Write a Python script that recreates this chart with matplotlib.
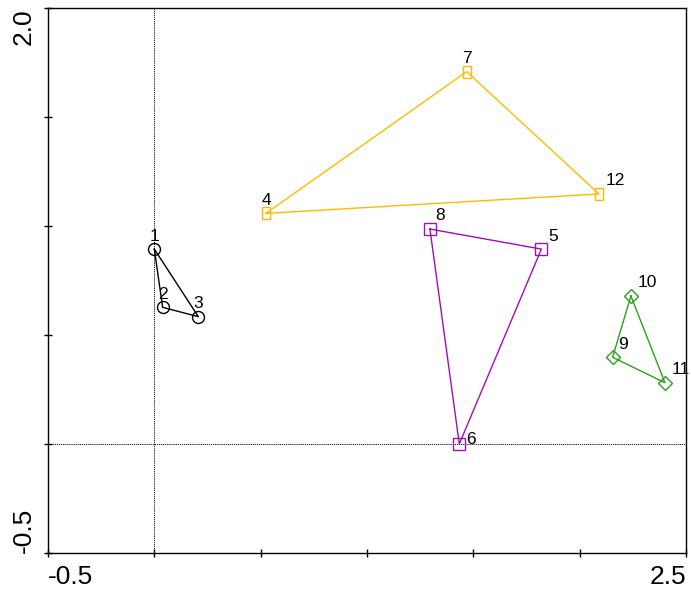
import matplotlib
matplotlib.use("Agg")
import matplotlib.pyplot as plt
from matplotlib.path import Path
import numpy as np

plt.rcParams['font.family'] = ['Liberation Sans', 'DejaVu Sans']

# ---- data ----
labels = ["1", "2", "3", "4", "5", "6", "7", "8", "9", "10", "11", "12"]
x_vals = [0.0, 0.039, 0.207, 0.525, 1.820, 1.434, 1.469, 1.296, 2.155, 2.241, 2.401, 2.091]
y_vals = [0.894, 0.627, 0.584, 1.058, 0.894, 0.0, 1.708, 0.986, 0.398, 0.679, 0.281, 1.147]
groups = [["1", "2", "3"], ["4", "7", "12"], ["8", "5", "6"], ["10", "9", "11"]]
x_ticks = [-0.5, 0.0, 0.5, 1.0, 1.5, 2.0, 2.5]
y_ticks = [-0.5, 0.0, 0.5, 1.0, 1.5, 2.0]
x_tick_labels = ["-0.5", "", "", "", "", "", "2.5"]
y_tick_labels = ["-0.5", "", "", "", "", "2.0"]

# ---- styles ----
rect = Path([(-0.3, -0.5), (0.3, -0.5), (0.3, 0.5), (-0.3, 0.5), (-0.3, -0.5)],
            [Path.MOVETO, Path.LINETO, Path.LINETO, Path.LINETO, Path.CLOSEPOLY])
group_styles = [
    dict(color="black", marker="o", ms=8.6),
    dict(color="#FFBA00", marker=rect, ms=8.6),
    dict(color="#A010B0", marker="s", ms=8.6),
    dict(color="#2CA01C", marker="D", ms=5.6 * 1.25),
]
# label offsets in points (dx, dy, ha)
label_offsets = {
    "1": (0, 4, "center"), "2": (0, 4, "center"), "3": (0, 4, "center"),
    "4": (0, 4, "center"), "7": (0, 4, "center"), "12": (5, 4, "left"),
    "8": (4, 4, "left"), "5": (5, 4, "left"), "6": (5, -2, "left"),
    "10": (5, 4, "left"), "9": (4, 4, "left"), "11": (5, 4, "left"),
}

fig = plt.figure(figsize=(6.91, 5.92), dpi=100)
ax = fig.add_axes([48 / 691, 39 / 592, 638 / 691, 545 / 592])

ax.axvline(0, color="black", lw=0.6, ls=(0, (1.5, 1.0)), zorder=1)
ax.axhline(0, color="black", lw=0.6, ls=(0, (1.5, 1.0)), zorder=1)

idx = {l: i for i, l in enumerate(labels)}
for g, st in zip(groups, group_styles):
    gi = [idx[l] for l in g] + [idx[g[0]]]
    gx = [x_vals[i] for i in gi]
    gy = [y_vals[i] for i in gi]
    ax.plot(gx, gy, color=st["color"], lw=1.0, zorder=2)
    ax.plot(gx[:-1], gy[:-1], ls="none", marker=st["marker"], ms=st["ms"],
            mfc="none", mec=st["color"], mew=1.0, zorder=3)

for l, x, y in zip(labels, x_vals, y_vals):
    dx, dy, ha = label_offsets[l]
    ax.annotate(l, (x, y), xytext=(dx, dy), textcoords="offset points",
                ha=ha, va="bottom", fontsize=12.5, color="black")

ax.set_xlim(-0.5, 2.5)
ax.set_ylim(-0.5, 2.0)
ax.set_xticks(x_ticks)
ax.set_xticklabels(x_tick_labels, fontsize=19)
ax.set_yticks(y_ticks)
ax.set_yticklabels(y_tick_labels, fontsize=19, rotation=90)
ax.tick_params(direction="inout", length=6, width=1.0, pad=6)
xl = ax.get_xticklabels()
xl[0].set_ha("left")
xl[-1].set_ha("right")
yl = ax.get_yticklabels()
yl[0].set_va("bottom")
yl[-1].set_va("top")
for s in ax.spines.values():
    s.set_linewidth(1.0)

fig.savefig("out.png", dpi=100)
